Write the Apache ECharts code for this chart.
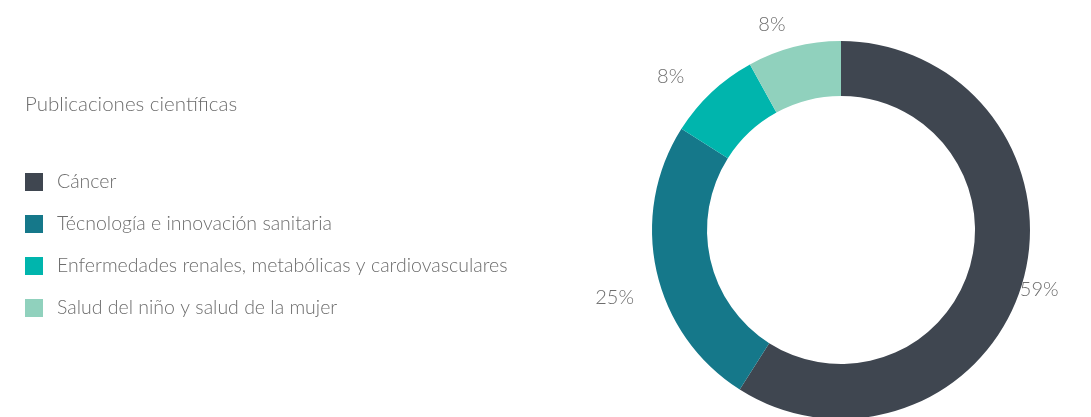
<!DOCTYPE html>
<html>
<head>
<meta charset="utf-8">
<script src="https://cdn.jsdelivr.net/npm/echarts@6/dist/echarts.min.js"></script>
<style>
  html, body { margin: 0; padding: 0; background: #fff; }
  #chart { width: 1091px; height: 417px; }
</style>
</head>
<body>
<div id="chart"></div>
<script>
// Publication share by research area
const categories = [
  'Cáncer',
  'Técnología e innovación sanitaria',
  'Enfermedades renales, metabólicas y cardiovasculares',
  'Salud del niño y salud de la mujer'
];
const shares = [59, 25, 8, 8];
const titleText = 'Publicaciones científicas';

const palette = ['#3f4650', '#15788a', '#00b5ad', '#90d1bd'];
const fontFamily = 'Lato, "Open Sans", "Noto Sans", sans-serif';
const textColor = '#6d6d6d';

// small nudges for individual percentage labels
const labelOffsets = [[-25, 2], [0, 22], [-10, -3], [1, -5]];

const chart = echarts.init(document.getElementById('chart'), null, { renderer: 'canvas' });

chart.setOption({
  animation: false,
  color: palette,
  title: {
    text: titleText,
    left: 20,
    top: 89,
    textStyle: { fontFamily, fontSize: 20.5, fontWeight: 300, color: textColor }
  },
  legend: {
    orient: 'vertical',
    left: 20,
    top: 167,
    icon: 'rect',
    itemWidth: 18,
    itemHeight: 18,
    itemGap: 22,
    selectedMode: false,
    data: categories,
    textStyle: {
      fontFamily, fontSize: 19.5, fontWeight: 300, color: textColor,
      padding: [0, 0, 0, 9]
    }
  },
  series: [{
    type: 'pie',
    center: [841, 230],
    radius: [134, 189],
    startAngle: 90,
    clockwise: true,
    avoidLabelOverlap: false,
    label: {
      show: true,
      position: 'outside',
      formatter: '{c}%',
      fontFamily, fontSize: 20, fontWeight: 300, color: textColor
    },
    labelLine: { show: false, length: 18, length2: 0 },
    emphasis: { disabled: true },
    data: categories.map((name, i) => ({
      name,
      value: shares[i],
      label: { offset: labelOffsets[i] }
    }))
  }]
});
</script>
</body>
</html>
